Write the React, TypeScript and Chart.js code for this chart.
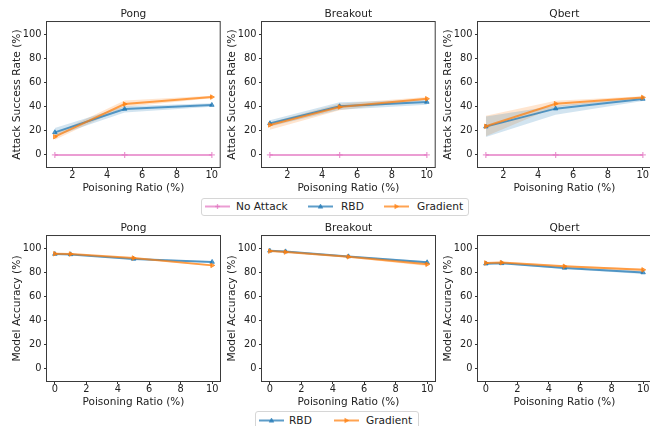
import React, { useEffect, useRef } from "react";
import { Chart, registerables } from "chart.js";
Chart.register(...registerables);

// ---------------- data ----------------
const games = ["Pong", "Breakout", "Qbert"];
const attackRatios = [1, 5, 10];
const accRatios = [0, 1, 5, 10];
const yTicks = [0, 20, 40, 60, 80, 100];
const attackXTicks = [2, 4, 6, 8, 10];
const accXTicks = [0, 2, 4, 6, 8, 10];

// Attack success rate (%), per game [Pong, Breakout, Qbert]
const noAttackAsr = [
  [0, 0, 0],
  [0, 0, 0],
  [0, 0, 0],
];
const rbdAsr = [
  [18.7, 38.0, 41.3],
  [26.1, 40.2, 43.8],
  [23.4, 38.3, 46.3],
];
const rbdAsrLow = [
  [15.4, 35.2, 39.8],
  [23.6, 37.4, 41.6],
  [14.9, 33.3, 44.6],
];
const rbdAsrHigh = [
  [22.3, 40.2, 42.8],
  [28.6, 43.5, 45.7],
  [31.9, 40.7, 47.9],
];
const gradAsr = [
  [15.1, 42.1, 47.9],
  [24.8, 39.7, 46.5],
  [23.7, 42.4, 47.6],
];
const gradAsrLow = [
  [12.6, 39.7, 46.9],
  [20.9, 36.9, 45.5],
  [15.4, 39.7, 46.6],
];
const gradAsrHigh = [
  [17.6, 45.1, 48.9],
  [26.9, 42.4, 48.0],
  [32.5, 44.9, 48.6],
];

// Model accuracy (%)
const rbdAcc = [
  [95.1, 94.8, 91.0, 88.5],
  [97.8, 97.2, 93.1, 88.2],
  [87.1, 87.4, 83.6, 79.8],
];
const rbdAccLow = [
  [94.5, 94.2, 90.3, 87.8],
  [97.2, 96.6, 92.5, 87.3],
  [86.4, 86.8, 82.8, 78.5],
];
const rbdAccHigh = [
  [95.7, 95.4, 91.7, 89.2],
  [98.4, 97.8, 93.7, 89.1],
  [87.8, 88.0, 84.4, 81.1],
];
const gradAcc = [
  [95.3, 95.1, 91.8, 85.7],
  [97.5, 96.7, 92.8, 86.6],
  [87.7, 88.0, 84.9, 82.0],
];
const gradAccLow = [
  [94.8, 94.6, 91.1, 85.0],
  [96.9, 96.1, 92.1, 85.1],
  [87.1, 87.4, 84.2, 80.8],
];
const gradAccHigh = [
  [95.8, 95.6, 92.5, 86.4],
  [98.1, 97.3, 93.5, 88.1],
  [88.3, 88.6, 85.6, 83.2],
];

// ---------------- style ----------------
const FONT = '"DejaVu Sans", sans-serif';
const TEXT = "#222";
const BLUE = [31, 119, 180];
const ORANGE = [255, 127, 14];
const PINK = [227, 119, 194];
const rgba = (c: number[], a: number) => `rgba(${c[0]},${c[1]},${c[2]},${a})`;
const LINE_A = 0.72;

const colLeft = [47, 262, 478];
const rowTop = [22, 236];
const PLOT_W = 175;
const PLOT_H = 145;
const Y_W = 40;
const TITLE_H = 23;
const X_H = 30;
const RIGHT_PAD = 3;
const CANVAS_W = Y_W + PLOT_W + RIGHT_PAD;
const CANVAS_H = TITLE_H + PLOT_H + X_H;

const framePlugin = {
  id: "frame",
  afterDatasetsDraw(chart: any) {
    const { ctx, chartArea: a } = chart;
    ctx.save();
    ctx.strokeStyle = "#3a3a3a";
    ctx.lineWidth = 1;
    ctx.strokeRect(a.left - 0.5, a.top - 0.5, a.right - a.left + 1, a.bottom - a.top + 1);
    ctx.restore();
  },
};

const pts = (xs: number[], ys: number[]) => xs.map((x, i) => ({ x, y: ys[i] }));

function buildConfig(kind: "asr" | "acc", g: number): any {
  const xs = kind === "asr" ? attackRatios : accRatios;
  const series =
    kind === "asr"
      ? [
          { mean: noAttackAsr[g], lo: null, hi: null, c: PINK, style: "cross", rot: 0 },
          { mean: rbdAsr[g], lo: rbdAsrLow[g], hi: rbdAsrHigh[g], c: BLUE, style: "triangle", rot: 0 },
          { mean: gradAsr[g], lo: gradAsrLow[g], hi: gradAsrHigh[g], c: ORANGE, style: "triangle", rot: 90 },
        ]
      : [
          { mean: rbdAcc[g], lo: rbdAccLow[g], hi: rbdAccHigh[g], c: BLUE, style: "triangle", rot: 0 },
          { mean: gradAcc[g], lo: gradAccLow[g], hi: gradAccHigh[g], c: ORANGE, style: "triangle", rot: 90 },
        ];
  const datasets: any[] = [];
  series.forEach((s) => {
    if (s.lo && s.hi) {
      datasets.push({
        data: pts(xs, s.lo),
        borderColor: "rgba(0,0,0,0)",
        backgroundColor: "rgba(0,0,0,0)",
        borderWidth: 0,
        pointRadius: 0,
        fill: false,
        order: 10,
      });
      datasets.push({
        data: pts(xs, s.hi),
        borderColor: "rgba(0,0,0,0)",
        backgroundColor: rgba(s.c, 0.2),
        borderWidth: 0,
        pointRadius: 0,
        fill: "-1",
        order: 10,
      });
    }
  });
  series.forEach((s, i) => {
    datasets.push({
      data: pts(xs, s.mean),
      borderColor: rgba(s.c, LINE_A),
      backgroundColor: rgba(s.c, LINE_A),
      borderWidth: 2,
      pointStyle: s.style,
      pointRotation: s.rot,
      pointRadius: s.style === "cross" ? 3 : 2.6,
      pointBorderWidth: s.style === "cross" ? 1.3 : 1,
      fill: false,
      order: series.length - i,
    });
  });

  const xTicks = kind === "asr" ? attackXTicks : accXTicks;
  const xMin = kind === "asr" ? 0.55 : -0.5;
  const xMax = kind === "asr" ? 10.45 : 10.5;

  const tickGrid = {
    display: true,
    drawOnChartArea: false,
    drawTicks: true,
    tickLength: 3,
    color: "#333",
    lineWidth: 1,
  };

  return {
    type: "line",
    data: { datasets },
    plugins: [framePlugin],
    options: {
      responsive: false,
      maintainAspectRatio: false,
      animation: false,
      devicePixelRatio: 1,
      events: [],
      layout: { padding: { left: 0, right: RIGHT_PAD, top: 0, bottom: 0 } },
      plugins: {
        legend: { display: false },
        tooltip: { enabled: false },
        title: {
          display: true,
          text: games[g],
          color: TEXT,
          fullSize: false,
          font: { family: FONT, size: 10.6, weight: "normal" },
          padding: { top: 9.2, bottom: 1.1 },
        },
      },
      scales: {
        x: {
          type: "linear",
          min: xMin,
          max: xMax,
          afterBuildTicks: (scale: any) => {
            scale.ticks = xTicks.map((v) => ({ value: v }));
          },
          afterFit: (scale: any) => {
            scale.height = X_H;
          },
          grid: tickGrid,
          border: { display: false },
          ticks: {
            color: TEXT,
            font: { family: FONT, size: 9.8 },
            padding: 0,
            maxRotation: 0,
            autoSkip: false,
          },
          title: {
            display: true,
            text: "Poisoning Ratio (%)",
            color: TEXT,
            font: { family: FONT, size: 10.5 },
            padding: { top: 0, bottom: 2.7 },
          },
        },
        y: {
          type: "linear",
          min: -10,
          max: 110,
          afterBuildTicks: (scale: any) => {
            scale.ticks = yTicks.map((v) => ({ value: v }));
          },
          afterFit: (scale: any) => {
            scale.width = Y_W;
          },
          grid: tickGrid,
          border: { display: false },
          ticks: {
            color: TEXT,
            font: { family: FONT, size: 9.8 },
            padding: 2.5,
            autoSkip: false,
          },
          title: {
            display: true,
            text: kind === "asr" ? "Attack Success Rate (%)" : "Model Accuracy (%)",
            color: TEXT,
            font: { family: FONT, size: 10.7 },
            padding: { top: 4.2, bottom: 0 },
          },
        },
      },
    },
  };
}

function Panel({ kind, g, row }: { kind: "asr" | "acc"; g: number; row: number }) {
  const ref = useRef<HTMLCanvasElement | null>(null);
  useEffect(() => {
    if (!ref.current) return;
    const chart = new Chart(ref.current, buildConfig(kind, g));
    return () => chart.destroy();
  }, [kind, g]);
  return (
    <canvas
      ref={ref}
      width={CANVAS_W}
      height={CANVAS_H}
      style={{
        position: "absolute",
        left: colLeft[g] - Y_W,
        top: rowTop[row] - TITLE_H,
        width: CANVAS_W,
        height: CANVAS_H,
      }}
    />
  );
}

function LegendMark({ c, kind, left, top }: { c: number[]; kind: string; left: number; top: number }) {
  const col = rgba(c, LINE_A);
  let marker: any = null;
  if (kind === "cross") {
    marker = (
      <g stroke={col} strokeWidth={1.3}>
        <line x1={12.5} y1={3} x2={12.5} y2={8} />
        <line x1={10} y1={5.5} x2={15} y2={5.5} />
      </g>
    );
  } else if (kind === "up") {
    marker = <polygon points="12.5,3 14.8,7.2 10.2,7.2" fill={col} stroke={col} strokeWidth={0.6} />;
  } else {
    marker = <polygon points="14.8,5.5 10.8,3.2 10.8,7.8" fill={col} stroke={col} strokeWidth={0.6} />;
  }
  return (
    <svg width={25} height={11} style={{ position: "absolute", left, top }}>
      <line x1={0} y1={5.5} x2={25} y2={5.5} stroke={col} strokeWidth={2} />
      {marker}
    </svg>
  );
}

const legendText = (left: number, top: number, text: string) => (
  <span
    style={{
      position: "absolute",
      left,
      top,
      fontFamily: FONT,
      fontSize: 10.6,
      lineHeight: "12px",
      color: TEXT,
      whiteSpace: "nowrap",
    }}
  >
    {text}
  </span>
);

export default function App() {
  return (
    <div
      style={{
        position: "fixed",
        left: 0,
        top: 0,
        width: 650,
        height: 426,
        overflow: "hidden",
        background: "#fff",
      }}
    >
      {games.map((_, g) => (
        <Panel key={"a" + g} kind="asr" g={g} row={0} />
      ))}
      {games.map((_, g) => (
        <Panel key={"b" + g} kind="acc" g={g} row={1} />
      ))}
      {/* top legend */}
      <div
        style={{
          position: "absolute",
          left: 201,
          top: 198,
          width: 266,
          height: 16,
          border: "1px solid #d6d6d6",
          borderRadius: 3,
          background: "#fff",
        }}
      >
        <LegendMark c={PINK} kind="cross" left={3} top={2} />
        {legendText(34, 1, "No Attack")}
        <LegendMark c={BLUE} kind="up" left={106} top={2} />
        {legendText(139, 1, "RBD")}
        <LegendMark c={ORANGE} kind="right" left={182} top={2} />
        {legendText(215, 1, "Gradient")}
      </div>
      {/* bottom legend */}
      <div
        style={{
          position: "absolute",
          left: 255,
          top: 411,
          width: 162,
          height: 20,
          border: "1px solid #d6d6d6",
          borderRadius: 3,
          background: "#fff",
        }}
      >
        <LegendMark c={BLUE} kind="up" left={3} top={3} />
        {legendText(33, 2, "RBD")}
        <LegendMark c={ORANGE} kind="right" left={78} top={3} />
        {legendText(110, 2, "Gradient")}
      </div>
    </div>
  );
}
